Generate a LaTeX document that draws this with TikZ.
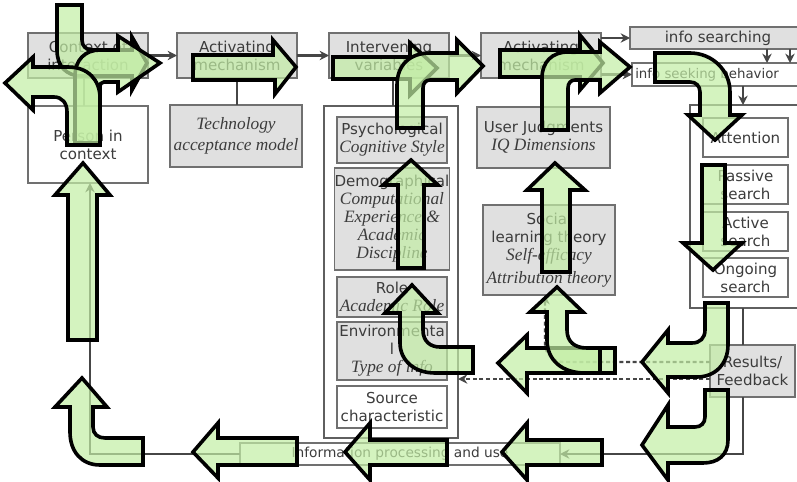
\documentclass[tikz,border=0pt]{standalone}
\usepackage{fontspec}
\setmainfont{Liberation Serif}
\setsansfont{DejaVu Sans}
\usetikzlibrary{arrows.meta}
\definecolor{boxgray}{RGB}{224,224,224}
\definecolor{edgegray}{RGB}{112,112,112}
\definecolor{txt}{RGB}{60,60,60}
\definecolor{conngray}{RGB}{70,70,70}
\definecolor{blkgreen}{RGB}{195,238,165}
\newcommand{\itfont}{\rmfamily\itshape\fontsize{13}{15.5}\selectfont}
\newcommand{\bx}[7]{\node[#6, minimum width={(#4-#2)*0.75pt}, minimum height={(#5-#3)*0.75pt}] (#1) at ({(#2+#4)/2},{(#3+#5)/2}) {#7};}
\begin{document}
\begin{tikzpicture}[x=0.75pt,y=-0.75pt,
  sbox/.style={draw=edgegray, line width=0.9pt, fill=boxgray, inner sep=0pt, outer sep=0pt, align=center, text=txt, font=\sffamily\fontsize{11.3}{13.5}\selectfont},
  wbox/.style={sbox, fill=white},
  itbox/.style={sbox, font=\itfont},
  bigbox/.style={draw=edgegray!85!black, line width=2.2pt, fill=white, inner sep=0pt, outer sep=0pt},
  conn/.style={draw=conngray, line width=1.6pt, -{Stealth[length=7pt,width=7pt]}},
  plain/.style={draw=conngray, line width=1.6pt},
  dotl/.style={draw=conngray, line width=1.8pt, dash pattern=on 3pt off 2pt, -{Stealth[length=7pt,width=7pt]}},
  blk/.style={draw=black, line width=2.7pt, fill=blkgreen, fill opacity=0.7, line join=miter}]
\useasboundingbox (0,0) rectangle (797,482);
\clip (0,0) rectangle (797,482);
\fill[white] (0,0) rectangle (797,482);
% ---------- boxes ----------
\bx{ctx}{28}{33}{148}{78}{sbox}{Context of\\interaction}
\bx{pic}{28}{106}{148}{183}{wbox}{Person in\\context}
\bx{act1}{177}{33}{297}{78}{sbox}{Activating\\mechanism}
\bx{tam}{170}{105}{302}{167}{itbox}{Technology\\acceptance model}
\bx{iv}{329}{33}{449}{78}{sbox}{Intervening\\variables}
\bx{ivc}{324}{106}{458}{438}{bigbox}{}
\bx{psy}{337}{117}{447}{163}{sbox}{Psychological\\\itfont Cognitive Style}
\bx{demo}{337}{168}{447}{270}{sbox}{Demographical\\\itfont Computational\\\itfont Experience \&\\\itfont Academic\\\itfont Discipline}
\bx{role}{337}{277}{447}{317}{sbox}{Role\\\itfont Academic Role}
\bx{env}{337}{322}{447}{380}{sbox}{Environmenta\\l\\\itfont Type of info}
\bx{src}{337}{386}{447}{428}{wbox}{Source\\characteristic}
\bx{act2}{481}{33}{601}{78}{sbox}{Activating\\mechanism}
\bx{uj}{477}{107}{610}{168}{sbox}{User Judgments\\\itfont IQ Dimensions}
\bx{slt}{483}{205}{615}{295}{sbox}{Social\\learning theory\\\itfont Self-efficacy\\[4pt]\itfont Attribution theory}
\bx{infos}{630}{27}{806}{49}{sbox}{info searching}
\bx{seek}{632}{63}{850}{86}{wbox}{}
\node[anchor=west, text=txt, font=\sffamily\fontsize{10}{12}\selectfont, inner sep=0pt] (seektxt) at (635,75) {info seeking behavior};
\bx{rc}{690}{105}{805}{308}{bigbox}{}
\bx{att}{703}{118}{788}{157}{wbox}{Attention}
\bx{pas}{703}{165}{788}{204}{wbox}{Passive\\search}
\bx{actv}{703}{212}{788}{251}{wbox}{Active\\search}
\bx{ong}{703}{258}{788}{297}{wbox}{Ongoing\\search}
\bx{res}{710}{345}{795}{397}{sbox}{Results/\\Feedback}
\bx{ipu}{240}{443}{560}{465}{wbox}{\fontsize{10.3}{12}\selectfont Information processing and use}
% ---------- helper coordinates ----------
\coordinate (xa) at (767,0);
\coordinate (xb) at (790,0);
\coordinate (xc) at (743,0);
\coordinate (xd) at (84,0);
\coordinate (xe) at (90,0);
\coordinate (xf) at (545,0);
\coordinate (xg) at (393,0);
\coordinate (xh) at (543,0);
\coordinate (ya) at (0,362);
\coordinate (yb) at (0,379);
% ---------- connectors ----------
\draw[conn] (ctx) -- (act1);
\draw[conn] (act1) -- (iv);
\draw[conn] (iv) -- (act2);
\draw[conn] (act2.east |- infos.west) -- (infos.west);
\draw[conn] (act2.east |- seek.west) -- (seek.west);
\draw[conn] (infos.south -| xa) -- (seek.north -| xa);
\draw[conn] (infos.south -| xb) -- (seek.north -| xb);
\draw[conn] (seek.south -| xc) -- (rc.north -| xc);
\draw[plain] (rc.south -| xc) -- (res.north -| xc);
\draw[conn] (res.south -| xc) |- (ipu.east);
\draw[conn] (ipu.west) -| (pic.south -| xe);
\draw[plain] (ctx.south -| xd) -- (pic.north -| xd);
\draw[plain] (act1.south) -- (act1.south |- tam.north);
\draw[plain] (iv.south -| xg) -- (ivc.north -| xg);
\draw[plain] (act2.south -| xh) -- (uj.north -| xh);
\draw[dotl, rounded corners=14pt] (res.west |- ya) -| (slt.south -| xf);
\draw[dotl] (res.west |- yb) -- (ivc.east |- yb);
% ---------- green block arrows ----------
\draw[blk] (57,5) -- (57,50) .. controls (57,66) and (66,76) .. (82,76) -- (132,76) -- (132,90) -- (147,63) -- (132,37) -- (132,50) -- (92,50) .. controls (86,50) and (82,46) .. (82,40) -- (82,5) -- cycle;
\draw[blk] (75,143) -- (75,76) .. controls (75,60) and (85,50) .. (100,50) -- (118,50) -- (118,36) -- (160,63) -- (118,92) -- (118,82) -- (104,82) .. controls (101,82) and (100,84) .. (100,88) -- (100,143) -- cycle;
\draw[blk] (67,145) -- (67,112) .. controls (67,103) and (62,97) .. (54,97) -- (33,97) -- (33,110) -- (5,83) -- (33,57) -- (33,67) -- (68,67) .. controls (88,67) and (100,80) .. (100,98) -- (100,145) -- cycle;
\draw[blk] (193,55) -- (273,55) -- (273,40) -- (296,67) -- (275,94) -- (275,80) -- (193,80) -- cycle;
\draw[blk] (333,57) -- (410,57) -- (410,43) -- (437,68) -- (410,95) -- (410,79) -- (333,79) -- cycle;
\draw[blk] (397,128) -- (397,85) .. controls (397,65) and (410,53) .. (430,53) -- (457,53) -- (457,40) -- (483,66) -- (457,93) -- (457,80) -- (430,80) .. controls (426,80) and (423,83) .. (423,88) -- (423,128) -- cycle;
\draw[blk] (500,50) -- (580,50) -- (580,35) -- (603,63) -- (580,90) -- (580,77) -- (500,77) -- cycle;
\draw[blk] (542,130) -- (542,78) .. controls (542,62) and (552,52) .. (568,52) -- (600,52) -- (600,42) -- (630,67) -- (600,93) -- (600,80) -- (575,80) .. controls (571,80) and (568,83) .. (568,88) -- (568,130) -- cycle;
\draw[blk] (655,53) -- (690,53) .. controls (712,53) and (730,70) .. (730,92) -- (730,115) -- (742,115) -- (715,140) -- (688,115) -- (700,115) -- (700,92) .. controls (700,86) and (696,82) .. (690,82) -- (655,82) -- cycle;
\draw[blk] (702,165) -- (725,165) -- (725,243) -- (742,243) -- (713,270) -- (683,243) -- (702,243) -- cycle;
\draw[blk] (705,303) -- (728,303) -- (728,345) .. controls (728,364) and (715,377) .. (697,377) -- (668,377) -- (668,393) -- (642,362) -- (668,330) -- (668,343) -- (692,343) .. controls (700,343) and (705,338) .. (705,330) -- cycle;
\draw[blk] (705,390) -- (728,390) -- (728,440) .. controls (728,455) and (718,463) .. (703,463) -- (668,463) -- (668,480) -- (642,445) -- (668,405) -- (668,427) -- (695,427) .. controls (701,427) and (705,423) .. (705,417) -- cycle;
\draw[blk] (615,348) -- (527,348) -- (527,335) -- (498,363) -- (527,393) -- (527,373) -- (615,373) -- cycle;
\draw[blk] (547,312) -- (530,312) -- (557,287) -- (583,312) -- (567,312) -- (567,330) .. controls (567,342) and (575,348) .. (587,348) -- (600,348) -- (600,373) -- (585,373) .. controls (562,373) and (547,360) .. (547,340) -- cycle;
\draw[blk] (400,313) -- (385,313) -- (412,285) -- (438,313) -- (423,313) -- (423,330) .. controls (423,341) and (430,347) .. (440,347) -- (473,347) -- (473,373) -- (435,373) .. controls (414,373) and (400,360) .. (400,343) -- cycle;
\draw[blk] (398,268) -- (398,185) -- (383,185) -- (411,160) -- (438,185) -- (424,185) -- (424,268) -- cycle;
\draw[blk] (542,272) -- (542,190) -- (527,190) -- (555,163) -- (585,190) -- (570,190) -- (570,272) -- cycle;
\draw[blk] (602,440) -- (527,440) -- (527,423) -- (502,452) -- (527,480) -- (527,465) -- (602,465) -- cycle;
\draw[blk] (447,440) -- (370,440) -- (370,423) -- (345,452) -- (370,480) -- (370,465) -- (447,465) -- cycle;
\draw[blk] (297,438) -- (218,438) -- (218,423) -- (193,452) -- (218,478) -- (218,465) -- (297,465) -- cycle;
\draw[blk] (143,438) -- (143,465) -- (100,465) .. controls (82,465) and (70,452) .. (70,432) -- (70,407) -- (55,407) -- (82,378) -- (107,407) -- (93,407) -- (93,427) .. controls (93,434) and (98,438) .. (105,438) -- cycle;
\draw[blk] (68,340) -- (68,195) -- (55,195) -- (83,163) -- (110,195) -- (97,195) -- (97,340) -- cycle;
\end{tikzpicture}
\end{document}
